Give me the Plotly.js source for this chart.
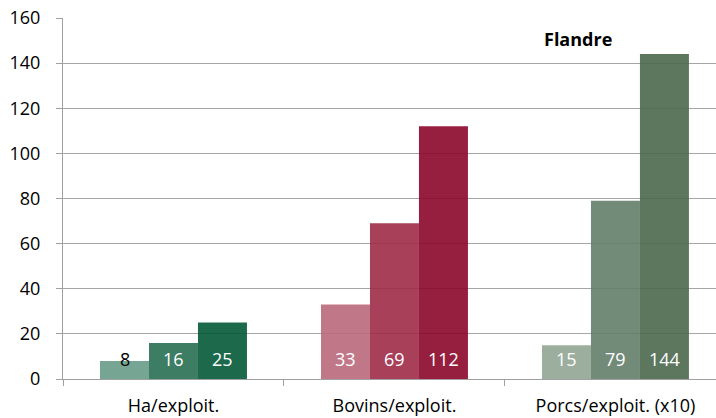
<!DOCTYPE html>
<html>
<head>
<meta charset="utf-8">
<script src="https://cdn.plot.ly/plotly-3.0.1.min.js"></script>
<style>html,body{margin:0;padding:0;background:#fff;}#chart{width:716px;height:418px;}</style>
</head>
<body>
<div id="chart"></div>
<script>
var categories = ["Ha/exploit.", "Bovins/exploit.", "Porcs/exploit. (x10)"];
var series1 = [8, 33, 15];
var series2 = [16, 69, 79];
var series3 = [25, 112, 144];
var yTicks = [0, 20, 40, 60, 80, 100, 120, 140, 160];
var chartTitle = "Flandre";

var displayColors = [
  ["#76a593", "#c07888", "#9cae9f"],
  ["#3d7d63", "#a8405a", "#738a78"],
  ["#1d6a4b", "#97203f", "#5d765f"]
];
var labelColors = [
  ["#000000", "#ffffff", "#ffffff"],
  ["#ffffff", "#ffffff", "#ffffff"],
  ["#ffffff", "#ffffff", "#ffffff"]
];
var OP = 0.9;
function preOpacity(hex) {
  var r = parseInt(hex.substr(1,2),16), g = parseInt(hex.substr(3,2),16), b = parseInt(hex.substr(5,2),16);
  function f(v){ return Math.max(0, Math.min(255, Math.round((v - (1-OP)*255)/OP))); }
  return "rgb(" + f(r) + "," + f(g) + "," + f(b) + ")";
}

var allSeries = [series1, series2, series3];
var bargap = 0.335;
var traces = allSeries.map(function(s, i) {
  return {
    type: "bar",
    x: categories,
    y: s,
    marker: {color: displayColors[i].map(preOpacity), line: {width: 0}},
    opacity: OP,
    hoverinfo: "none"
  };
});

var FS = 18;
var annotations = [];
var bw = (1 - bargap) / 3;
allSeries.forEach(function(s, i) {
  s.forEach(function(v, j) {
    annotations.push({
      x: j + (i - 1) * bw, y: 0, xref: "x", yref: "y",
      text: String(v), showarrow: false,
      yanchor: "middle", xanchor: "center", yshift: 20,
      font: {family: "Open Sans", size: FS, color: labelColors[i][j]}
    });
  });
});
annotations.push({
  xref: "paper", yref: "paper", x: 0.789, y: 0.942,
  text: "<b>" + chartTitle + "</b>", showarrow: false,
  xanchor: "center", yanchor: "middle",
  font: {family: "Open Sans", size: FS, color: "#000"}
});

var layout = {
  width: 716, height: 418,
  margin: {l: 63, r: 0, t: 18, b: 39, pad: 0},
  paper_bgcolor: "#fff", plot_bgcolor: "#fff",
  barmode: "group", bargap: bargap, bargroupgap: 0,
  showlegend: false,
  font: {family: "Open Sans", size: FS, color: "#000"},
  xaxis: {
    type: "category",
    range: [-0.5, 2.455],
    tickson: "boundaries",
    ticks: "outside", ticklen: 6, tickcolor: "#a0a0a0", tickwidth: 1,
    showline: true, linecolor: "#a0a0a0", linewidth: 1,
    showgrid: false, zeroline: false,
    ticklabelstandoff: 10,
    tickfont: {family: "Open Sans", size: FS, color: "#000"}
  },
  yaxis: {
    range: [0, 160],
    tickvals: yTicks,
    ticktext: yTicks.map(String),
    ticks: "outside", ticklen: 6, tickcolor: "#a0a0a0", tickwidth: 1,
    showline: true, linecolor: "#a0a0a0", linewidth: 1,
    showgrid: true, gridcolor: "#a6a6a6", gridwidth: 1,
    zeroline: false,
    ticklabelstandoff: 12,
    tickfont: {family: "Open Sans", size: FS, color: "#000"}
  },
  annotations: annotations
};

Plotly.newPlot("chart", traces, layout, {staticPlot: true, displayModeBar: false});
</script>
</body>
</html>
